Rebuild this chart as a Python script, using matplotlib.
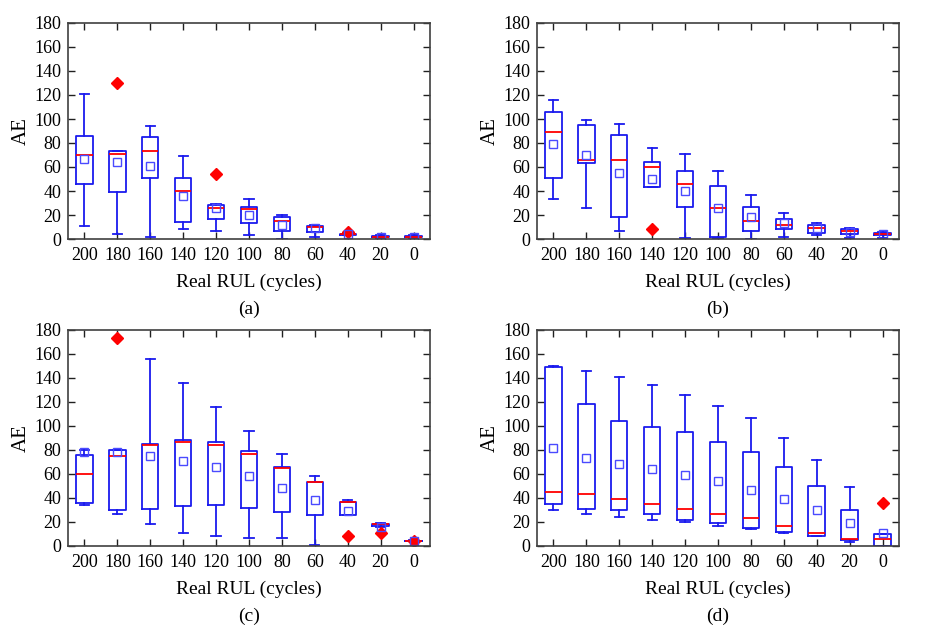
import matplotlib
matplotlib.use("Agg")
import matplotlib.pyplot as plt

plt.rcParams['font.family'] = ['Liberation Serif', 'DejaVu Serif']

categories = ["200", "180", "160", "140", "120", "100", "80", "60", "40", "20", "0"]

# Panel (a)
a_whislo = [11, 4, 2, 8, 7, 3, 0, 2, 3, 1, 1]
a_q1     = [46, 39, 51, 14, 17, 13, 7, 6, 3.5, 1.5, 1.5]
a_med    = [70, 71, 73, 40, 26, 25, 15, 10, 4, 2, 2]
a_q3     = [86, 73, 85, 51, 28, 27, 18, 11, 4.5, 2.5, 2.5]
a_whishi = [121, 73, 94, 69, 29, 33, 20, 12, 5, 3.5, 3.5]
a_mean   = [67, 64, 61, 36, 26, 20, 12, 9, 4, 2, 2]
a_fliers = [[], [130], [], [], [54], [], [], [], [6], [], []]

# Panel (b)
b_whislo = [33, 26, 7, 43, 0.5, 0.5, 0, 1.5, 3, 1, 0.5]
b_q1     = [51, 63, 18, 43, 27, 2, 7, 8.5, 5, 4, 3]
b_med    = [89, 66, 66, 60, 46, 26, 15, 12, 9, 7, 4.5]
b_q3     = [106, 95, 87, 64, 57, 44, 27, 17, 12, 8, 5]
b_whishi = [116, 99, 96, 76, 71, 57, 37, 22, 13, 9, 6]
b_mean   = [79, 70, 55, 50, 40, 26, 18, 13, 9, 6, 4]
b_fliers = [[], [], [], [8], [], [], [], [], [], [], []]

# Panel (c)
c_whislo = [34, 27, 18, 11, 8, 7, 7, 1, 26, 16, 4]
c_q1     = [36, 30, 31, 33, 34, 32, 28, 26, 26, 17, 4]
c_med    = [60, 75, 84, 87, 84, 77, 65, 53, 37, 18, 4.5]
c_q3     = [76, 80, 85, 88, 87, 79, 66, 53, 37, 18.5, 4.5]
c_whishi = [80, 80, 156, 136, 116, 96, 77, 58, 38, 19, 5]
c_mean   = [78, 78, 75, 71, 66, 58, 48, 38, 29, 16, 4]
c_fliers = [[], [173], [], [], [], [], [], [], [8], [11], [4]]

# Panel (d)
d_whislo = [30, 27, 24, 22, 20, 17, 14, 11, 8, 3, 0]
d_q1     = [35, 31, 30, 27, 22, 19, 15, 12, 8, 5, 0]
d_med    = [45, 43, 39, 35, 31, 27, 23, 17, 11, 6, 6]
d_q3     = [149, 118, 104, 99, 95, 87, 78, 66, 50, 30, 10]
d_whishi = [150, 146, 141, 134, 126, 117, 107, 90, 72, 49, 10]
d_mean   = [82, 73, 68, 64, 59, 54, 47, 39, 30, 19, 11]
d_fliers = [[], [], [], [], [], [], [], [], [], [], [36]]

panels = [
    ("(a)", a_whislo, a_q1, a_med, a_q3, a_whishi, a_mean, a_fliers),
    ("(b)", b_whislo, b_q1, b_med, b_q3, b_whishi, b_mean, b_fliers),
    ("(c)", c_whislo, c_q1, c_med, c_q3, c_whishi, c_mean, c_fliers),
    ("(d)", d_whislo, d_q1, d_med, d_q3, d_whishi, d_mean, d_fliers),
]

W, H = 928, 633
fig = plt.figure(figsize=(W / 100, H / 100), dpi=100)

# pixel boxes: left, top, right, bottom
boxes_px = [(68, 23, 430, 239), (537, 23, 899, 239),
            (68, 330, 430, 546), (537, 330, 899, 546)]

blue = '#1a1aee'
frame = '#404040'

for (label, wlo, q1, med, q3, whi, mean, fl), (l, t, r, b) in zip(panels, boxes_px):
    ax = fig.add_axes([l / W, 1 - b / H, (r - l) / W, (b - t) / H])
    stats = []
    for i in range(len(categories)):
        stats.append(dict(whislo=wlo[i], q1=q1[i], med=med[i], q3=q3[i],
                          whishi=whi[i], mean=mean[i], fliers=fl[i],
                          label=categories[i]))
    ax.bxp(stats, positions=range(1, len(categories) + 1), widths=0.5,
           capwidths=0.28, showmeans=True, showfliers=True,
           boxprops=dict(color=blue, linewidth=1.3),
           whiskerprops=dict(color=blue, linewidth=1.3, linestyle='-'),
           capprops=dict(color=blue, linewidth=1.3),
           medianprops=dict(color='red', linewidth=1.3),
           meanprops=dict(marker='s', markerfacecolor='none',
                          markeredgecolor='#4a4aff', markersize=6,
                          markeredgewidth=1.0),
           flierprops=dict(marker='D', markerfacecolor='red',
                           markeredgecolor='red', markersize=6))
    ax.set_xlim(0.5, len(categories) + 0.5)
    ax.set_ylim(0, 180)
    ax.set_yticks(range(0, 181, 20))
    ax.tick_params(direction='in', top=True, right=True, length=5,
                   width=1.0, color='#202020', labelsize=13, pad=5)
    ax.tick_params(axis='x', pad=6)
    for s in ax.spines.values():
        s.set_color(frame)
        s.set_linewidth(1.2)
    ax.set_ylabel("AE", fontsize=15, labelpad=2)
    ax.set_xlabel("Real RUL (cycles)", fontsize=14, labelpad=7)
    cx = (l + r) / 2 / W
    fig.text(cx, 1 - (b + 70) / H, label, ha='center', va='center', fontsize=14)

fig.savefig("out.png", dpi=100)
